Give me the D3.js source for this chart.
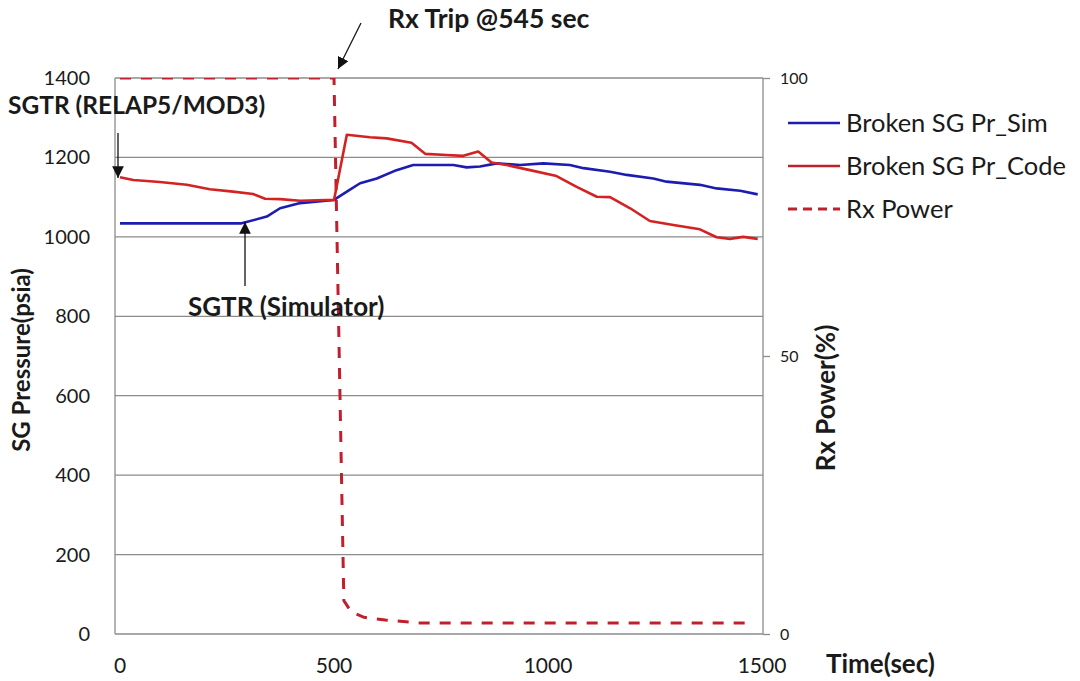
<!DOCTYPE html>
<html>
<head>
<meta charset="utf-8">
<script src="https://cdn.jsdelivr.net/npm/d3@7"></script>
<style>
  body { margin: 0; background: #fff; }
  text { font-family: Lato, "Open Sans", sans-serif; fill: #1a1a1a; }
</style>
</head>
<body>
<div id="chart"></div>
<script>
// time (sec) for each series
var simTime = [0, 284, 343, 374, 421, 500, 530, 561, 600, 646, 685, 779, 810, 841, 880, 935, 989, 1051, 1083, 1145, 1184, 1246, 1277, 1355, 1394, 1449, 1490];
var simPressure = [1034, 1034, 1051, 1072, 1085, 1093, 1114, 1135, 1147, 1168, 1181, 1181, 1175, 1177, 1185, 1181, 1185, 1181, 1173, 1164, 1156, 1147, 1139, 1131, 1122, 1116, 1107];

var codeTime = [0, 31, 93, 156, 210, 264, 311, 339, 374, 421, 500, 530, 584, 623, 681, 713, 763, 802, 837, 868, 903, 958, 1020, 1067, 1114, 1145, 1192, 1238, 1293, 1355, 1394, 1425, 1456, 1490];
var codePressure = [1150, 1143, 1138, 1131, 1120, 1114, 1108, 1096, 1095, 1091, 1093, 1257, 1251, 1248, 1237, 1209, 1206, 1204, 1215, 1187, 1181, 1168, 1153, 1126, 1101, 1100, 1072, 1040, 1030, 1019, 999, 995, 1000, 995];

var powerTime = [0, 500, 523, 540, 570, 620, 700, 1465];
var powerPct = [100, 100, 6, 4, 3, 2.5, 2, 2];

var pressureTicks = [0, 200, 400, 600, 800, 1000, 1200, 1400];
var powerTicks = [0, 50, 100];
var timeTicks = [0, 500, 1000, 1500];

var seriesNames = ["Broken SG Pr_Sim", "Broken SG Pr_Code", "Rx Power"];

var width = 1080, height = 681;
var plotLeft = 115, plotRight = 763, plotTop = 78, plotBottom = 634;

var svg = d3.select("#chart")
  .append("svg")
    .attr("width", width)
    .attr("height", height);

var x = d3.scaleLinear()
  .domain([0, 1500])
  .range([120, 762]);

var y = d3.scaleLinear()
  .domain([0, 1400])
  .range([plotBottom, plotTop]);

var y2 = d3.scaleLinear()
  .domain([0, 100])
  .range([plotBottom, plotTop]);

var defs = svg.append("defs");
defs.append("clipPath")
  .attr("id", "plotClip")
  .append("rect")
    .attr("x", plotLeft)
    .attr("y", plotTop)
    .attr("width", plotRight - plotLeft)
    .attr("height", plotBottom - plotTop);

// horizontal grid lines
svg.append("g")
  .selectAll("line")
  .data(pressureTicks)
  .enter()
  .append("line")
    .attr("x1", plotLeft)
    .attr("x2", plotRight)
    .attr("y1", function(d) { return y(d); })
    .attr("y2", function(d) { return y(d); })
    .attr("stroke", "#8c8c8c")
    .attr("stroke-width", 1.3);

// left and right axis lines
svg.append("line")
  .attr("x1", plotLeft).attr("x2", plotLeft)
  .attr("y1", plotTop).attr("y2", plotBottom)
  .attr("stroke", "#8c8c8c").attr("stroke-width", 1.3);

svg.append("line")
  .attr("x1", plotRight).attr("x2", plotRight)
  .attr("y1", plotTop).attr("y2", plotBottom)
  .attr("stroke", "#8c8c8c").attr("stroke-width", 1.3);

// left tick labels
svg.append("g")
  .selectAll("text")
  .data(pressureTicks)
  .enter()
  .append("text")
    .attr("x", 90)
    .attr("y", function(d) { return y(d) + 7; })
    .attr("text-anchor", "end")
    .style("font-size", "20px")
    .text(function(d) { return d; });

// right axis with small outward ticks
var rightAxis = svg.append("g")
  .attr("transform", "translate(" + plotRight + ",0)")
  .call(d3.axisRight(y2).tickValues(powerTicks).tickSize(7).tickPadding(10));
rightAxis.select(".domain").remove();
rightAxis.selectAll("line").attr("stroke", "#8c8c8c").attr("stroke-width", 1.3);
rightAxis.selectAll("text")
  .style("font-size", "16px")
  .style("font-family", "Lato, sans-serif")
  .attr("fill", "#1a1a1a");

// bottom tick labels
svg.append("g")
  .selectAll("text")
  .data(timeTicks)
  .enter()
  .append("text")
    .attr("x", function(d) { return x(d); })
    .attr("y", 673)
    .attr("text-anchor", "middle")
    .style("font-size", "21px")
    .text(function(d) { return d; });

// axis titles
svg.append("text")
  .attr("transform", "translate(30,360)rotate(-90)")
  .attr("text-anchor", "middle")
  .style("font-size", "24px")
  .style("font-weight", "bold")
  .text("SG Pressure(psia)");

svg.append("text")
  .attr("transform", "translate(835,398)rotate(-90)")
  .attr("text-anchor", "middle")
  .style("font-size", "26px")
  .style("font-weight", "bold")
  .text("Rx Power(%)");

svg.append("text")
  .attr("x", 826)
  .attr("y", 673)
  .style("font-size", "26px")
  .style("font-weight", "bold")
  .text("Time(sec)");

// lines
var line = d3.line()
  .x(function(d) { return x(d[0]); })
  .y(function(d) { return y(d[1]); });

var line2 = d3.line()
  .x(function(d) { return x(d[0]); })
  .y(function(d) { return y2(d[1]); });

svg.append("path")
  .datum(d3.zip(powerTime, powerPct))
  .attr("d", line2)
  .attr("clip-path", "url(#plotClip)")
  .attr("fill", "none")
  .attr("stroke", "#c0202e")
  .attr("stroke-width", 3)
  .attr("stroke-dasharray", "11,10");

svg.append("path")
  .datum(d3.zip(simTime, simPressure))
  .attr("d", line)
  .attr("fill", "none")
  .attr("stroke", "#1c1cb0")
  .attr("stroke-width", 2.6)
  .attr("stroke-linejoin", "round");

svg.append("path")
  .datum(d3.zip(codeTime, codePressure))
  .attr("d", line)
  .attr("fill", "none")
  .attr("stroke", "#d42222")
  .attr("stroke-width", 2.6)
  .attr("stroke-linejoin", "round");

// legend
var legendStroke = ["#1c1cb0", "#c0202e", "#c0202e"];
var legendDash = [null, null, "9,6"];
var legend = svg.append("g")
  .selectAll("g")
  .data(seriesNames)
  .enter()
  .append("g")
    .attr("transform", function(d, i) { return "translate(788," + [123, 166, 209][i] + ")"; });

legend.append("line")
  .attr("x1", 0).attr("x2", 52)
  .attr("stroke", function(d, i) { return legendStroke[i]; })
  .attr("stroke-width", function(d, i) { return i == 2 ? 3 : 2.6; })
  .attr("stroke-dasharray", function(d, i) { return legendDash[i]; });

legend.append("text")
  .attr("x", 58)
  .attr("y", 9)
  .style("font-size", "25.5px")
  .text(function(d) { return d; });

// annotations
defs.append("marker")
  .attr("id", "arrow")
  .attr("viewBox", "0 0 10 10")
  .attr("refX", 10).attr("refY", 5)
  .attr("markerWidth", 9).attr("markerHeight", 9)
  .attr("orient", "auto")
  .append("path")
    .attr("d", "M0,0 L10,5 L0,10 z")
    .attr("fill", "#111");

function arrow(x1, y1, x2, y2) {
  svg.append("line")
    .attr("x1", x1).attr("y1", y1)
    .attr("x2", x2).attr("y2", y2)
    .attr("stroke", "#111")
    .attr("stroke-width", 1.3)
    .attr("marker-end", "url(#arrow)");
}

function note(label, tx, ty, size) {
  svg.append("text")
    .attr("x", tx)
    .attr("y", ty)
    .style("font-size", size + "px")
    .style("font-weight", "bold")
    .text(label);
}

note("SGTR (RELAP5/MOD3)", 8, 114, 24.5);
arrow(118, 133, 118, 178);

note("SGTR (Simulator)", 188, 316, 26);
arrow(245, 286, 245, 222);

note("Rx Trip @545 sec", 388, 28, 26.5);
arrow(361, 23, 338, 69);
</script>
</body>
</html>
